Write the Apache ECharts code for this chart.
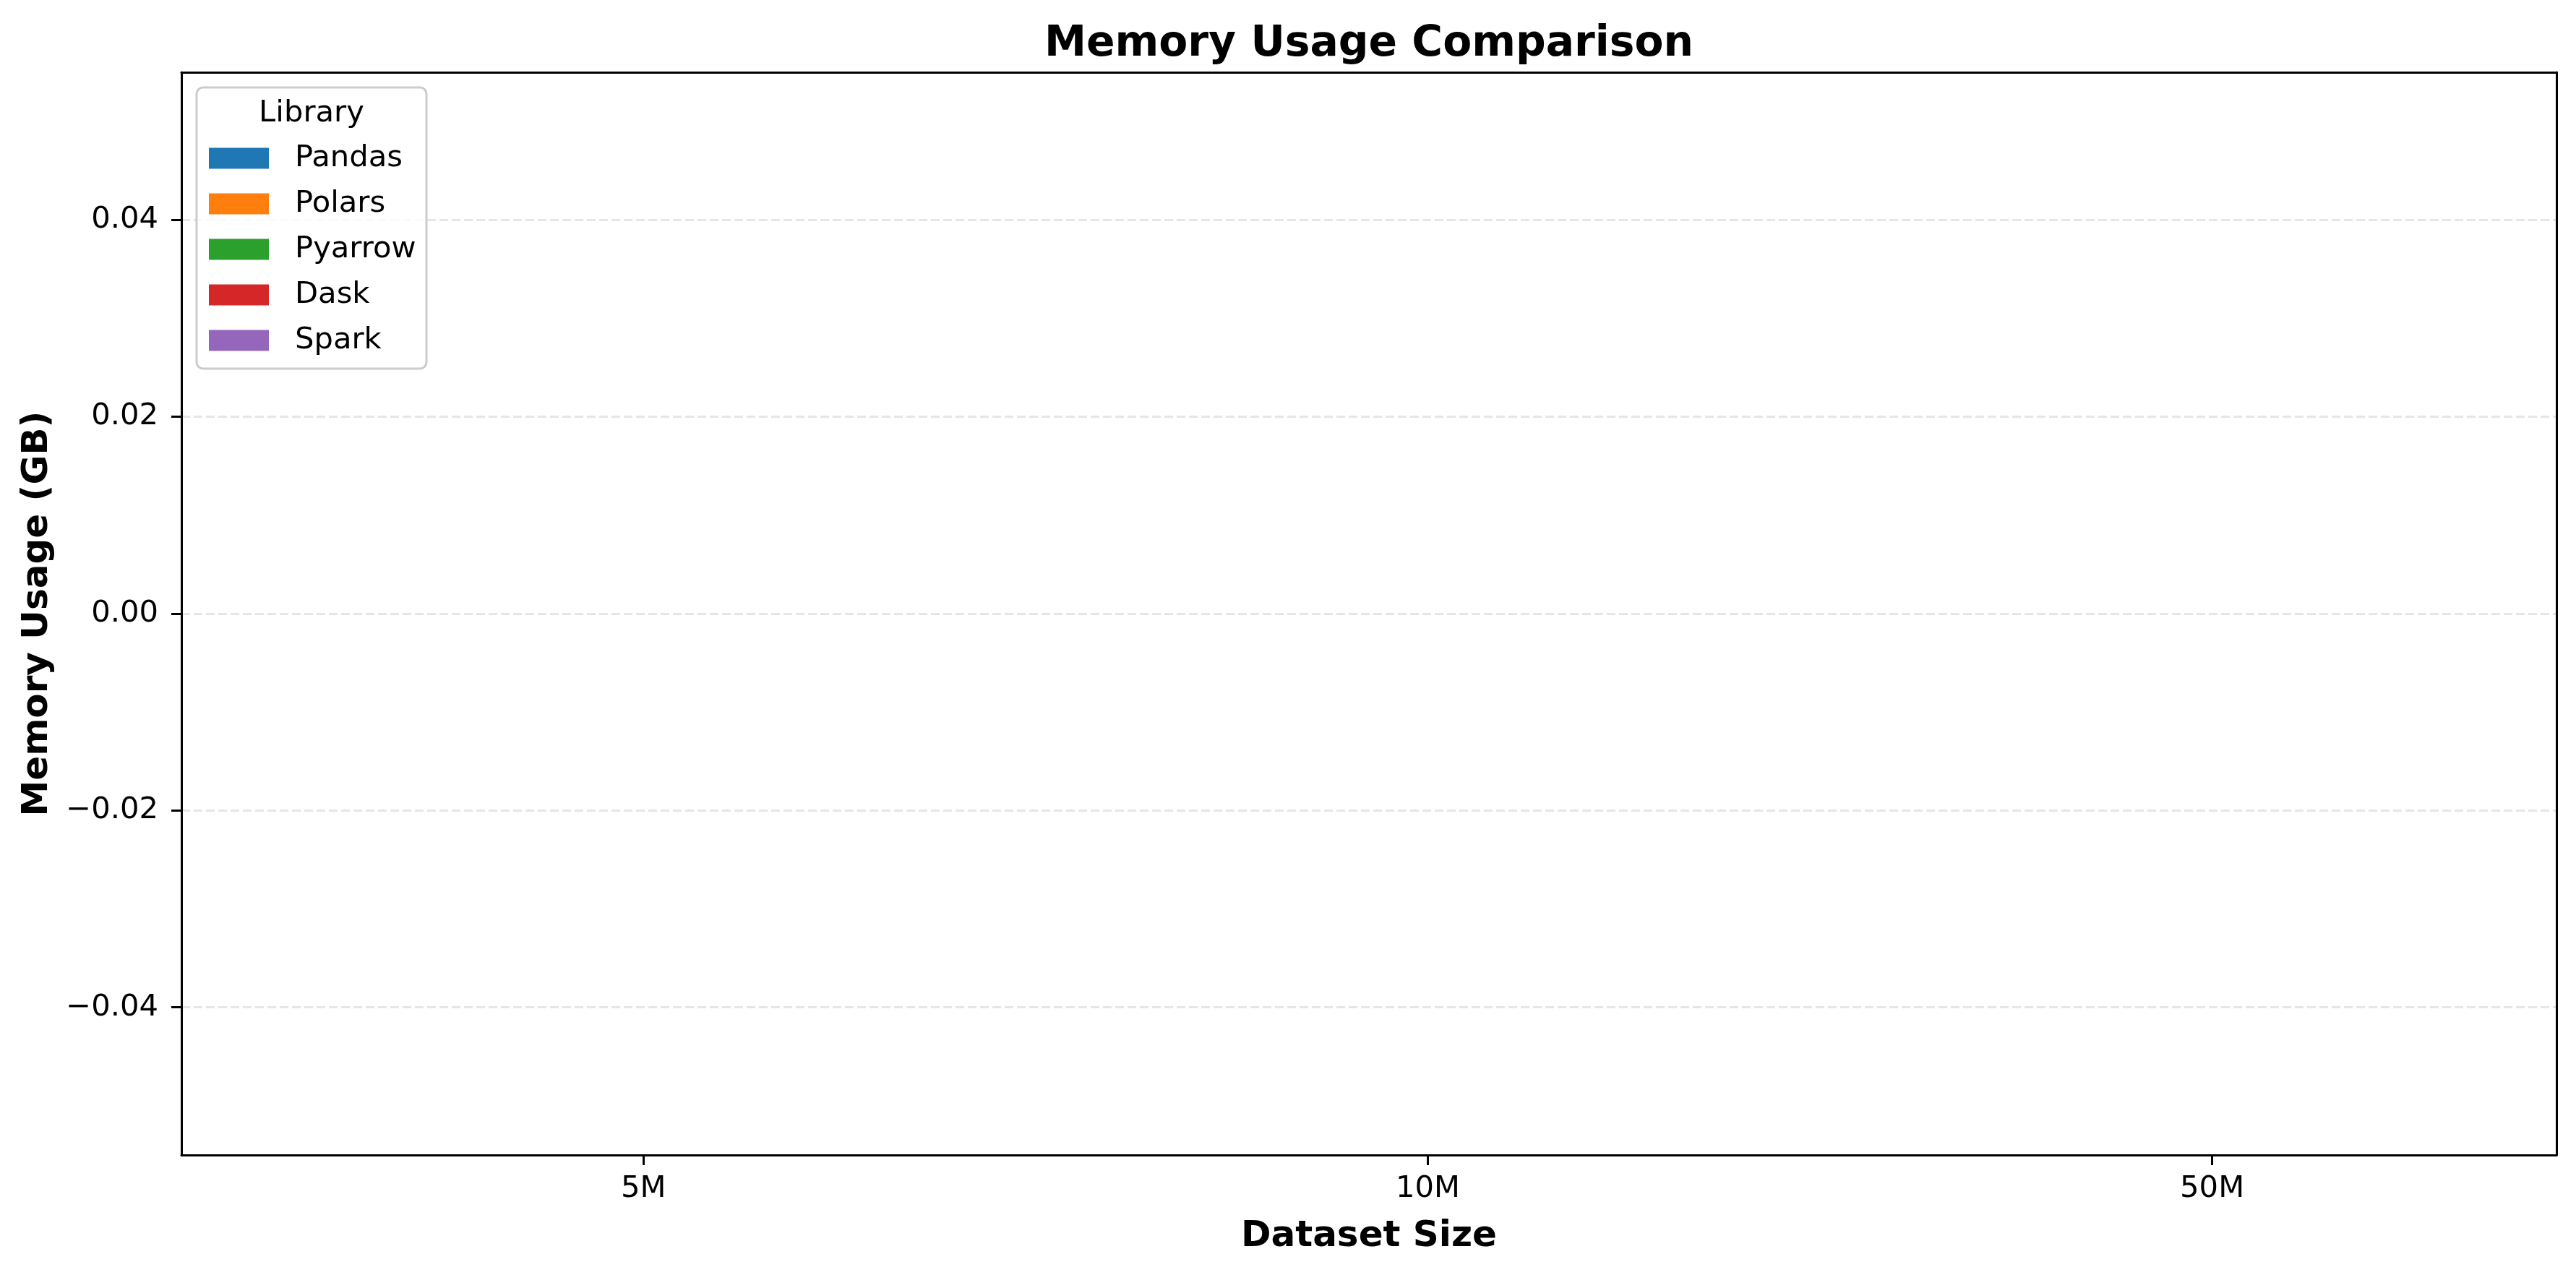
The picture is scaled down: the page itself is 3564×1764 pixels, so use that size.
<!DOCTYPE html>
<html><head><meta charset="utf-8">
<script src="https://cdn.jsdelivr.net/npm/echarts@6/dist/echarts.min.js"></script>
<style>html,body{margin:0;padding:0;background:#fff}#c{width:3564px;height:1764px}</style>
</head><body><div id="c"></div>
<script>
// ---- data ----
const categories = ['5M', '10M', '50M'];
const libraries = ['Pandas', 'Polars', 'Pyarrow', 'Dask', 'Spark'];
const pandasGB  = [0, 0, 0];
const polarsGB  = [0, 0, 0];
const pyarrowGB = [0, 0, 0];
const daskGB    = [0, 0, 0];
const sparkGB   = [0, 0, 0];
const yTicks = [-0.04, -0.02, 0, 0.02, 0.04];
const xTicks = [0, 1, 2];
const libColors = ['#1f77b4', '#ff7f0e', '#2ca02c', '#d62728', '#9467bd'];

const seriesValues = [pandasGB, polarsGB, pyarrowGB, daskGB, sparkGB];
const FONT = '"DejaVu Sans", "Liberation Sans", sans-serif';

const chart = echarts.init(document.getElementById('c'), null, {renderer: 'canvas'});

const series = libraries.map((name, k) => ({
  name: name,
  type: 'bar',
  xAxisIndex: 0,
  yAxisIndex: 0,
  barWidth: 163,
  barGap: '0%',
  itemStyle: {color: libColors[k]},
  data: seriesValues[k].map((v, i) => [xTicks[i], v])
}));

const X_MIN = -0.589, X_MAX = 2.439, Y_MIN = -0.055, Y_MAX = 0.055;
const frameLine = {show: true, onZero: false, lineStyle: {color: '#000', width: 3}};

const option = {
  backgroundColor: '#ffffff',
  animation: false,
  color: libColors,
  grid: {left: 251, top: 100, width: 3286, height: 1498, show: false},
  xAxis: [{
    type: 'value', position: 'bottom', min: X_MIN, max: X_MAX,
    axisLine: frameLine,
    axisTick: {show: true, inside: false, length: 14, customValues: xTicks,
               lineStyle: {color: '#000', width: 3}},
    axisLabel: {show: true, customValues: xTicks, margin: 26,
                formatter: v => categories[Math.round(v)],
                fontFamily: FONT, fontSize: 41.7, color: '#000'},
    splitLine: {show: false}
  }, {
    type: 'value', position: 'top', min: X_MIN, max: X_MAX,
    axisLine: frameLine, axisTick: {show: false}, axisLabel: {show: false},
    splitLine: {show: false}
  }],
  yAxis: [{
    type: 'value', position: 'left', min: Y_MIN, max: Y_MAX,
    axisLine: frameLine,
    axisTick: {show: true, inside: false, length: 14, customValues: yTicks,
               lineStyle: {color: '#000', width: 3}},
    axisLabel: {show: true, customValues: yTicks, margin: 32,
                formatter: v => v.toFixed(2).replace('-', '\u2212'),
                fontFamily: FONT, fontSize: 41.7, color: '#000'},
    splitLine: {show: true, lineStyle: {color: '#e6e6e6', width: 3, type: [12, 5]}}
  }, {
    type: 'value', position: 'right', min: Y_MIN, max: Y_MAX,
    axisLine: frameLine, axisTick: {show: false}, axisLabel: {show: false},
    splitLine: {show: false}
  }],
  legend: {
    orient: 'vertical',
    left: 289, top: 198,
    padding: 0,
    itemWidth: 83, itemHeight: 29, itemGap: 21,
    icon: 'rect',
    z: 10,
    textStyle: {fontFamily: FONT, fontSize: 41.7, color: '#000',
                padding: [0, 0, 0, 31]},
    data: libraries
  },
  graphic: [
    {type: 'rect', z: 5, shape: {x: 272, y: 121, width: 318, height: 389, r: 9},
     style: {fill: 'rgba(255,255,255,0.8)', stroke: '#cccccc', lineWidth: 3}},
    {type: 'text', z: 11, x: 431, y: 157,
     style: {text: 'Library', fontFamily: FONT, fontSize: 41.7, fill: '#000',
             align: 'center', verticalAlign: 'middle'}},
    {type: 'text', z: 11, x: 1894, y: 62,
     style: {text: 'Memory Usage Comparison', fontFamily: FONT, fontSize: 58.3,
             fontWeight: 'bold', fill: '#000', align: 'center', verticalAlign: 'middle'}},
    {type: 'text', z: 11, x: 1894, y: 1711,
     style: {text: 'Dataset Size', fontFamily: FONT, fontSize: 50,
             fontWeight: 'bold', fill: '#000', align: 'center', verticalAlign: 'middle'}},
    {type: 'text', z: 11, x: 52, y: 849, rotation: Math.PI / 2,
     style: {text: 'Memory Usage (GB)', fontFamily: FONT, fontSize: 50,
             fontWeight: 'bold', fill: '#000', align: 'center', verticalAlign: 'middle'}}
  ],
  series: series
};
chart.setOption(option);
</script></body></html>
